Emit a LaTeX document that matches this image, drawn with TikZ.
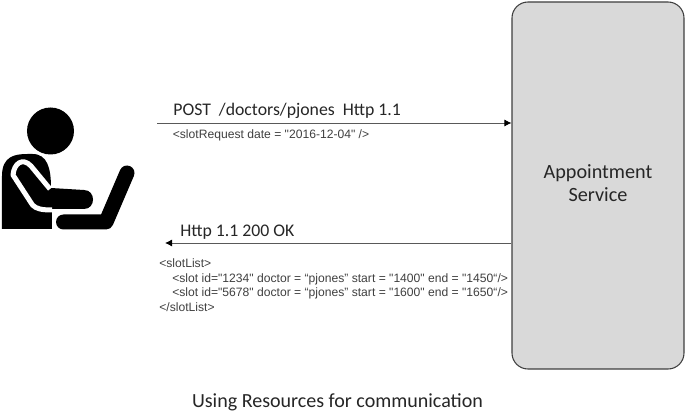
\documentclass[tikz,border=0pt]{standalone}
\usepackage{xcolor}
\usepackage{tikz}
\usepackage{fontspec}
\setmainfont{Carlito}
\newfontfamily\xmlfont{Liberation Sans}
\definecolor{ApptFill}{HTML}{D9D9D9}
\definecolor{ApptLine}{HTML}{3F3F3F}
\definecolor{MsgLine}{HTML}{595959}
\definecolor{XmlText}{HTML}{404040}
\tikzset{
  msgarrow/.style={MsgLine,line width=.5pt,-{Latex[length=4pt,width=4pt,black]}},
  headtext/.style={anchor=west,inner sep=0pt,font=\fontsize{10.1}{12}\selectfont,text=black!85},
  xmltext/.style={anchor=west,inner sep=0pt,align=left,font=\xmlfont\fontsize{6.9}{8.3}\selectfont,text=XmlText},
}
\usetikzlibrary{arrows.meta}
\begin{document}
\begin{tikzpicture}[x=1cm,y=1cm]
\path[use as bounding box] (0,0) rectangle (13.70,8.22);
\fill[white] (0,0) rectangle (13.70,8.22);
\node[draw=ApptLine,fill=ApptFill,line width=.6pt,rounded corners=.32cm,minimum width=3.44cm,minimum height=7.34cm,inner sep=0pt] (appt) at (11.96,4.51) {};
\node[align=center,inner sep=0pt,font=\fontsize{11.5}{13.2}\selectfont,text=black!85] (apptlabel) at (11.96,4.55) {Appointment\\Service};
\fill[black] (1.01,5.60) circle (0.47);
\fill[black] (0.04,3.64) -- (0.04,4.70) .. controls (0.04,5.10) and (0.30,5.14) .. (0.55,5.14) -- (0.65,5.14) .. controls (0.95,5.14) and (1.02,4.85) .. (1.02,4.46) -- (1.68,4.42) .. controls (1.92,4.42) and (1.92,4.04) .. (1.68,4.04) -- (1.04,4.04) -- (1.04,3.64) -- cycle;
\draw[white,line width=.10cm,line join=round] (1.00,4.44) -- (0.62,4.90) .. controls (0.45,5.08) and (0.28,4.95) .. (0.26,4.72) -- (0.65,4.12) .. controls (0.72,4.04) and (0.85,4.02) .. (1.04,4.02);
\draw[black,line width=.30cm,line cap=round,line join=round] (1.27,3.78) -- (2.12,3.78) -- (2.54,4.76);
\coordinate (reqstart) at (3.14,5.76);
\coordinate (respend) at (3.30,3.36);
\draw[msgarrow] (reqstart) -- (reqstart -| appt.west);
\draw[msgarrow] (respend -| appt.west) -- (respend);
\node[headtext] (reqhead) at (3.46,6.01) {POST\ \ /doctors/pjones\ \ Http 1.1};
\node[xmltext] (reqbody) at (3.45,5.51) {<slotRequest date = "2016-12-04" />};
\node[headtext] (resphead) at (3.60,3.57) {Http 1.1 200 OK};
\node[xmltext] (respbody) at (3.18,2.52) {<slotList>\\\hspace*{.26cm}<slot id="1234" doctor = “pjones” start = "1400" end = "1450“/>\\\hspace*{.26cm}<slot id="5678" doctor = “pjones” start = "1600" end = "1650“/>\\</slotList>};
\node[inner sep=0pt,font=\fontsize{11.4}{13}\selectfont,text=black!85] (caption) at (6.75,0.18) {Using Resources for communication};
\end{tikzpicture}
\end{document}
